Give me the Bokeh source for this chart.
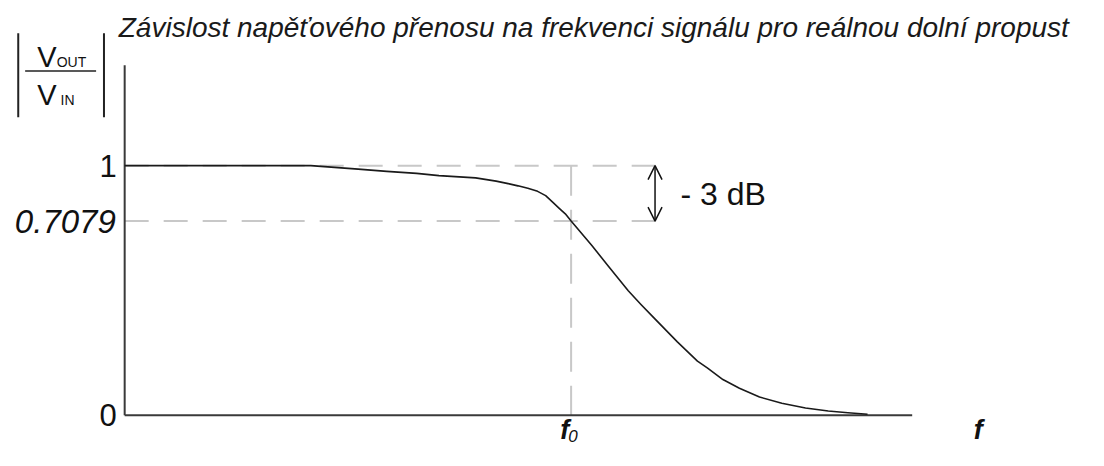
from bokeh.plotting import figure
from bokeh.models import Range1d, Arrow, OpenHead
from bokeh.core.properties import value
from bokeh.embed import file_html
from bokeh.resources import INLINE

# ---- data (schematic low-pass magnitude response) ----
freq = [0.0, 0.417, 0.455, 0.523, 0.587, 0.654, 0.704, 0.786, 0.832, 0.859,
        0.881, 0.903, 0.925, 0.943, 0.958, 0.974, 0.987, 1.000, 1.046, 1.084,
        1.128, 1.157, 1.185, 1.238, 1.283, 1.305, 1.340, 1.377, 1.422, 1.472,
        1.525, 1.576, 1.620, 1.664]
gain = [1.000, 1.000, 0.995, 0.986, 0.977, 0.969, 0.960, 0.951, 0.938, 0.928,
        0.919, 0.909, 0.897, 0.880, 0.855, 0.828, 0.807, 0.778, 0.681, 0.596,
        0.499, 0.443, 0.391, 0.294, 0.217, 0.190, 0.143, 0.108, 0.073, 0.048,
        0.029, 0.017, 0.010, 0.004]
f0 = 1.0
level_3db = 0.778          # drawn height of the -3 dB level in the sketch
level_3db_label = "0.7079"
unity_label = "1"
zero_label = "0"
db_label = "- 3 dB"
title_text = "Závislost napěťového přenosu na frekvenci signálu pro reálnou dolní propust"
x_axis_end = 1.764
y_axis_end = 1.402
dash_end = 1.201
arrow_x = 1.188

FONT = "Liberation Sans"
W, H = 1088, 450
REF_W, REF_H = 1104, 466

# reference-picture pixel -> data helpers (layout of the texts)
def X(rx):
    return (rx - 126) / 453.0

def Y(ry):
    return (429.5 - ry) / 258.5

p = figure(width=W, height=H, output_backend="svg", toolbar_location=None,
           x_range=Range1d(X(0), X(REF_W)), y_range=Range1d(Y(REF_H), Y(0)),
           min_border=0)
p.axis.visible = False
p.grid.visible = False
p.outline_line_color = None
p.background_fill_color = "white"

dash_col = "#c8c8c8"
ink = "#111111"
# dashed guide lines
p.segment(x0=[0, 0], y0=[1.0, level_3db], x1=[dash_end, dash_end], y1=[1.0, level_3db],
          line_color=dash_col, line_width=2, line_dash="24 15")
p.segment(x0=[f0], y0=[1.0], x1=[f0], y1=[0.0],
          line_color=dash_col, line_width=2, line_dash="30 14")

# axes
p.line([0, 0], [0, y_axis_end], line_color="#3a3a3a", line_width=2)
p.line([0, x_axis_end], [0, 0], line_color="#3a3a3a", line_width=2)

# curve
p.line(freq, gain, line_color="#1a1a1a", line_width=1.6, line_join="round")

# -3 dB arrow
p.add_layout(Arrow(x_start=arrow_x, y_start=level_3db, x_end=arrow_x, y_end=1.0,
                   line_width=1.5, line_color=ink,
                   start=OpenHead(size=14, line_width=1.5, line_color=ink),
                   end=OpenHead(size=14, line_width=1.5, line_color=ink)))
p.text(x=[X(690)], y=[Y(200)], text=[db_label], text_font=value(FONT),
       text_font_size="32px", text_baseline="middle", text_align="left", text_color=ink)

# y tick labels
p.text(x=[X(118), X(118)], y=[1.0, 0.0], text=[unity_label, zero_label], text_font=value(FONT),
       text_font_size="31px", text_baseline="middle", text_align="right", text_color=ink)
p.text(x=[X(117)], y=[level_3db], text=[level_3db_label], text_font=value(FONT),
       text_font_size="33px", text_font_style="italic", text_baseline="middle",
       text_align="right", text_color=ink)

# x labels
p.text(x=[X(577)], y=[Y(445)], text=["f"], text_font=value(FONT), text_font_size="27px",
       text_font_style="bold italic", text_baseline="middle", text_align="right", text_color=ink)
p.text(x=[X(576)], y=[Y(451)], text=["0"], text_font=value(FONT), text_font_size="17px",
       text_font_style="italic", text_baseline="middle", text_align="left", text_color=ink)
p.text(x=[X(992)], y=[Y(445)], text=["f"], text_font=value(FONT), text_font_size="27px",
       text_font_style="bold italic", text_baseline="middle", text_align="center", text_color=ink)

# title
p.text(x=[X(120)], y=[Y(28)], text=[title_text], text_font=value(FONT), text_font_size="28px",
       text_font_style="italic", text_baseline="middle", text_align="left", text_color="#1a1a1a")

# y label |V_OUT / V_IN|
p.segment(x0=[X(18), X(105)], y0=[Y(34), Y(34)], x1=[X(18), X(105)], y1=[Y(121), Y(121)],
          line_color="#222222", line_width=2)
p.segment(x0=[X(25)], y0=[Y(73)], x1=[X(97)], y1=[Y(73)], line_color="#222222", line_width=1.5)
p.text(x=[X(47), X(47)], y=[Y(58), Y(97.5)], text=["V", "V"], text_font=value(FONT),
       text_font_size="29px", text_baseline="middle", text_align="center", text_color=ink)
p.text(x=[X(57), X(61)], y=[Y(63.5), Y(103)], text=["OUT", "IN"], text_font=value(FONT),
       text_font_size="14px", text_baseline="middle", text_align="left", text_color=ink)

open("out.html", "w").write(file_html(p, INLINE))
